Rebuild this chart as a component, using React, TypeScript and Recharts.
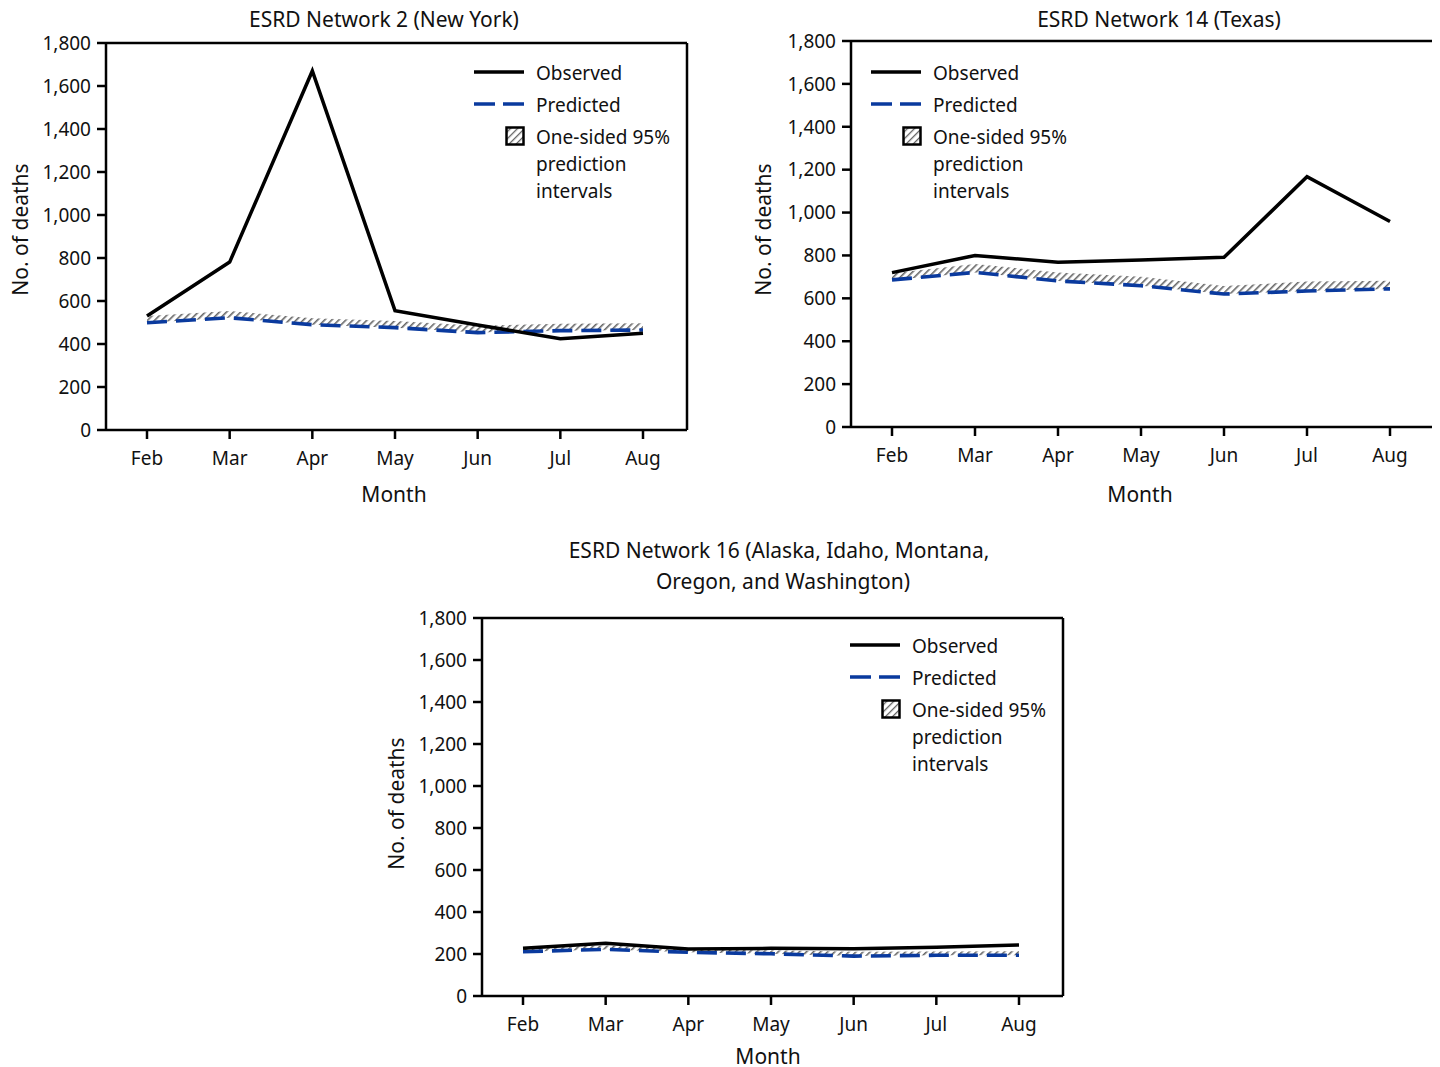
import React from 'react';
import { ComposedChart, Line, Area, XAxis, YAxis } from 'recharts';

const months = ['Feb', 'Mar', 'Apr', 'May', 'Jun', 'Jul', 'Aug'];
const yTicks = [0, 200, 400, 600, 800, 1000, 1200, 1400, 1600, 1800];

const nyObserved = [530, 781, 1670, 555, 488, 425, 450];
const nyPredicted = [499, 522, 490, 476, 453, 462, 465];
const nyUpper = [530, 553, 520, 507, 485, 494, 496];

const txObserved = [720, 800, 768, 779, 791, 1167, 958];
const txPredicted = [686, 721, 681, 659, 620, 634, 644];
const txUpper = [717, 760, 721, 701, 658, 678, 682];

const nwObserved = [227, 251, 224, 227, 225, 232, 243];
const nwPredicted = [211, 222, 208, 201, 190, 194, 194];
const nwUpper = [230, 241, 222, 218, 211, 212, 213];

const FONT = '"Noto Sans", "Open Sans", sans-serif';
const BLUE = '#0a3a9e';
const FS = 19;
const FS_TICK = 19;
const FS_TITLE = 21;

function buildRows(obs: number[], pred: number[], upper: number[]) {
  return months.map((m, i) => ({ month: m, observed: obs[i], predicted: pred[i], band: [pred[i], upper[i]] }));
}

type PanelProps = {
  id: string;
  left: number;
  top: number;
  plotLeft: number;
  plotTop: number;
  plotRight: number;
  plotBottom: number;
  rows: any[];
};

function Panel({ id, left, top, plotLeft, plotTop, plotRight, plotBottom, rows }: PanelProps) {
  const width = plotRight - left + 10;
  const height = plotBottom - top + 50;
  const yAxisW = plotLeft - left;
  const tickStyle = { fontFamily: FONT, fontSize: FS_TICK, fill: '#111' };
  const axisLine = { stroke: '#000', strokeWidth: 2.5 };
  return (
    <div style={{ position: 'absolute', left, top, width, height }}>
      <ComposedChart
        width={width}
        height={height}
        data={rows}
        margin={{ top: plotTop - top - 1, right: width - (plotRight - left) - 1, left: 0, bottom: 0 }}
      >
        <defs>
          <pattern id={id} patternUnits="userSpaceOnUse" width="5" height="5" patternTransform="rotate(45)">
            <rect width="5" height="5" fill="#fff" />
            <line x1="0" y1="0" x2="0" y2="5" stroke="#666" strokeWidth="3.2" />
          </pattern>
        </defs>
        <XAxis
          dataKey="month"
          interval={0}
          padding={{ left: 41, right: 44 }}
          height={50}
          tickSize={9}
          tickMargin={13}
          tick={tickStyle}
          axisLine={axisLine}
          tickLine={axisLine}
        />
        <XAxis xAxisId="top" dataKey="month" orientation="top" height={1} tick={false} tickLine={false} axisLine={axisLine} />
        <YAxis
          domain={[0, 1800]}
          ticks={yTicks}
          interval={0}
          width={yAxisW}
          tickSize={9}
          tickMargin={6}
          tick={tickStyle}
          axisLine={axisLine}
          tickLine={axisLine}
          tickFormatter={(v: number) => v.toLocaleString('en-US')}
        />
        <YAxis yAxisId="right" orientation="right" width={1} domain={[0, 1800]} tick={false} tickLine={false} axisLine={axisLine} />
        <Area
          dataKey="band"
          type="linear"
          stroke="none"
          fill={`url(#${id})`}
          fillOpacity={1}
          isAnimationActive={false}
          activeDot={false}
        />
        <Line
          dataKey="predicted"
          type="linear"
          stroke={BLUE}
          strokeWidth={3.6}
          strokeDasharray="20 9"
          dot={false}
          activeDot={false}
          isAnimationActive={false}
        />
        <Line
          dataKey="observed"
          type="linear"
          stroke="#000"
          strokeWidth={3.5}
          dot={false}
          activeDot={false}
          isAnimationActive={false}
        />
      </ComposedChart>
    </div>
  );
}

const textBase: React.CSSProperties = {
  position: 'absolute',
  fontFamily: FONT,
  fontSize: FS,
  color: '#111',
  whiteSpace: 'nowrap',
  lineHeight: 1,
};

function CenterText({ x, y, children, size = FS_TITLE }: { x: number; y: number; children: React.ReactNode; size?: number }) {
  return (
    <div style={{ ...textBase, fontSize: size, left: x - 300, width: 600, top: y - size / 2 - 2, textAlign: 'center' }}>
      {children}
    </div>
  );
}

function VText({ x, y, children }: { x: number; y: number; children: React.ReactNode }) {
  return (
    <div
      style={{
        ...textBase,
        fontSize: FS_TITLE,
        left: x - 100,
        width: 200,
        top: y - FS_TITLE / 2 - 2,
        textAlign: 'center',
        transform: 'rotate(-90deg)',
      }}
    >
      {children}
    </div>
  );
}

function LegendBox({ id, x, y }: { id: string; x: number; y: number }) {
  // x: left of line icon, y: center of first row
  const textX = x + 62;
  return (
    <>
      <svg style={{ position: 'absolute', left: x, top: y - 3 }} width={52} height={6}>
        <line x1={0} y1={3} x2={50} y2={3} stroke="#000" strokeWidth={3.5} />
      </svg>
      <div style={{ ...textBase, left: textX, top: y - 8 }}>Observed</div>
      <svg style={{ position: 'absolute', left: x, top: y + 32 - 3 }} width={52} height={6}>
        <line x1={0} y1={3} x2={50} y2={3} stroke={BLUE} strokeWidth={3.6} strokeDasharray="21 8" />
      </svg>
      <div style={{ ...textBase, left: textX, top: y + 32 - 8 }}>Predicted</div>
      <svg style={{ position: 'absolute', left: x + 31, top: y + 64 - 10 }} width={21} height={20}>
        <defs>
          <pattern id={id + '-lg'} patternUnits="userSpaceOnUse" width="5" height="5" patternTransform="rotate(45)">
            <rect width="5" height="5" fill="#fff" />
            <line x1="0" y1="0" x2="0" y2="5" stroke="#666" strokeWidth="2.6" />
          </pattern>
        </defs>
        <rect x={1.5} y={1.5} width={17} height={17} fill={`url(#${id}-lg)`} stroke="#000" strokeWidth={2.5} />
      </svg>
      <div style={{ ...textBase, left: textX, top: y + 64 - 12, lineHeight: '27px' }}>
        One-sided 95%
        <br />
        prediction
        <br />
        intervals
      </div>
    </>
  );
}

export default function App() {
  return (
    <div style={{ position: 'relative', width: 1440, height: 1067 }}>
      <div style={{ position: 'absolute', left: -8, top: -8, width: 1440, height: 1067 }}>
        <Panel
          id="hatch1"
          left={0}
          top={0}
          plotLeft={106}
          plotTop={43}
          plotRight={687}
          plotBottom={430}
          rows={buildRows(nyObserved, nyPredicted, nyUpper)}
        />
        <CenterText x={384} y={21}>ESRD Network 2 (New York)</CenterText>
        <VText x={20} y={231}>No. of deaths</VText>
        <CenterText x={394} y={496}>Month</CenterText>
        <LegendBox id="l1" x={474} y={72} />

        <Panel
          id="hatch2"
          left={745}
          top={0}
          plotLeft={851}
          plotTop={41}
          plotRight={1434}
          plotBottom={427}
          rows={buildRows(txObserved, txPredicted, txUpper)}
        />
        <CenterText x={1159} y={21}>ESRD Network 14 (Texas)</CenterText>
        <VText x={763} y={231}>No. of deaths</VText>
        <CenterText x={1140} y={496}>Month</CenterText>
        <LegendBox id="l2" x={871} y={72} />

        <Panel
          id="hatch3"
          left={376}
          top={575}
          plotLeft={482}
          plotTop={618}
          plotRight={1063}
          plotBottom={996}
          rows={buildRows(nwObserved, nwPredicted, nwUpper)}
        />
        <CenterText x={779} y={552}>ESRD Network 16 (Alaska, Idaho, Montana,</CenterText>
        <CenterText x={783} y={583}>Oregon, and Washington)</CenterText>
        <VText x={396} y={805}>No. of deaths</VText>
        <CenterText x={768} y={1058}>Month</CenterText>
        <LegendBox id="l3" x={850} y={645} />
      </div>
    </div>
  );
}
